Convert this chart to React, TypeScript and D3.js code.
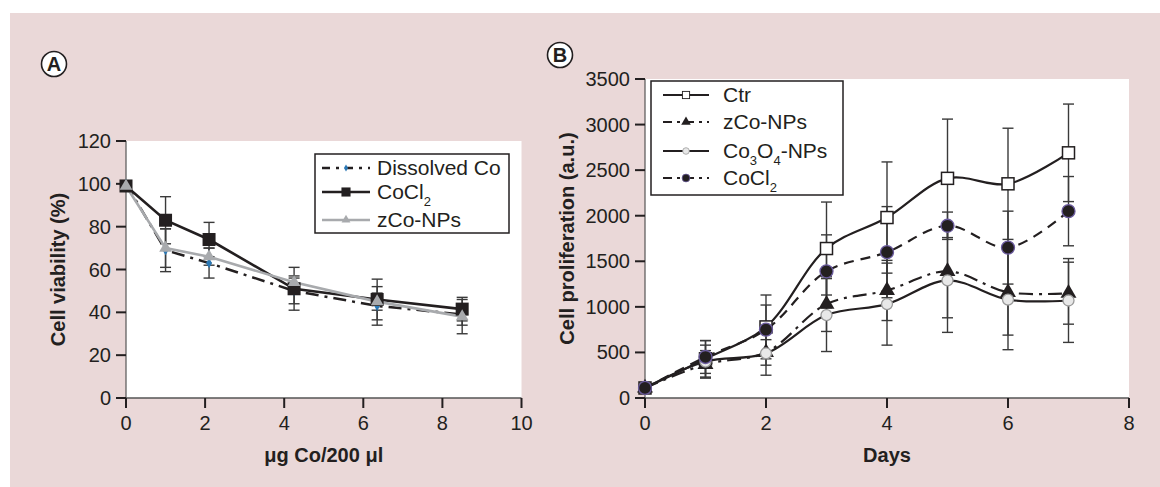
import React from 'react';
import * as d3 from 'd3';

// panel A: viability vs dose
const doses = [0, 1.0, 2.1, 4.25, 6.35, 8.5];
const dissolvedCo = [100, 69, 63, 50, 43, 39];
const dissolvedCoErr = [0, 10, 7, 6, 9, 5];
const cocl2A = [99, 83, 74, 51, 46, 41.5];
const cocl2AErr = [0, 11, 8, 10, 9.5, 5.5];
const zcoA = [99, 70, 66, 54, 45, 38];
const zcoAErr = [0, 9, 4, 3, 4, 8];
const ticksAx = [0, 2, 4, 6, 8, 10];
const ticksAy = [0, 20, 40, 60, 80, 100, 120];

// panel B: proliferation vs days
const days = [0, 1, 2, 3, 4, 5, 6, 7];
const ctr = [110, 430, 780, 1640, 1980, 2410, 2350, 2690];
const ctrErr = [30, 200, 350, 510, 610, 650, 610, 535];
const zcoB = [110, 370, 500, 1030, 1180, 1390, 1160, 1150];
const zcoBErr = [30, 150, 140, 300, 330, 510, 470, 340];
const co3o4 = [110, 400, 490, 910, 1030, 1290, 1080, 1070];
const co3o4Err = [30, 180, 240, 400, 450, 570, 550, 460];
const cocl2B = [110, 450, 750, 1390, 1600, 1890, 1650, 2050];
const cocl2BErr = [30, 180, 270, 400, 500, 150, 400, 380];
const ticksBx = [0, 2, 4, 6, 8];
const ticksBy = [0, 500, 1000, 1500, 2000, 2500, 3000, 3500];

const INK = '#231f20';
const FONT = '"Liberation Sans", Arial, Helvetica, sans-serif';

type Series = {
  name: string;
  xs: number[];
  ys: number[];
  err: number[];
  stroke: string;
  width: number;
  dash?: string;
  marker: (x: number, y: number, key: string) => React.ReactNode;
};

function ErrorBars({ s, x, y, cap }: { s: Series; x: d3.ScaleLinear<number, number>; y: d3.ScaleLinear<number, number>; cap: number }) {
  return (
    <g stroke="#3a3a3a" strokeWidth={1.4}>
      {s.xs.map((d, i) => {
        const e = s.err[i];
        if (!e) return null;
        const cx = x(d);
        const y1 = y(s.ys[i] - e);
        const y2 = y(s.ys[i] + e);
        return (
          <g key={i}>
            <line x1={cx} x2={cx} y1={y1} y2={y2} />
            <line x1={cx - cap} x2={cx + cap} y1={y1} y2={y1} />
            <line x1={cx - cap} x2={cx + cap} y1={y2} y2={y2} />
          </g>
        );
      })}
    </g>
  );
}

const sym = (type: d3.SymbolType, size: number) => d3.symbol().type(type).size(size)() as string;

function Axes({ x, y, xt, yt, xLabel, yLabel, yLabelX }: any) {
  const [x0, x1] = x.range();
  const [y0, y1] = y.range();
  return (
    <g fontFamily={FONT} fill={INK}>
      <rect x={x0} y={y1} width={x1 - x0} height={y0 - y1} fill="#fff" />
      <line x1={x0} x2={x1} y1={y0} y2={y0} stroke="#555" strokeWidth={1.5} />
      <line x1={x0} x2={x0} y1={y1} y2={y0} stroke="#555" strokeWidth={1.2} />
      {xt.map((t: number) => (
        <g key={'x' + t}>
          <line x1={x(t)} x2={x(t)} y1={y0} y2={y0 + 10} stroke={INK} strokeWidth={2} />
          <text x={x(t)} y={y0 + 32} fontSize={20} textAnchor="middle">{t}</text>
        </g>
      ))}
      {yt.map((t: number) => (
        <g key={'y' + t}>
          <line x1={x0 - 10} x2={x0} y1={y(t)} y2={y(t)} stroke={INK} strokeWidth={2} />
          <text x={x0 - 15} y={y(t) + 7} fontSize={20} textAnchor="end">{t}</text>
        </g>
      ))}
      <text x={(x0 + x1) / 2} y={462} fontSize={20} fontWeight="bold" textAnchor="middle">{xLabel}</text>
      <text transform={`translate(${yLabelX},${(y0 + y1) / 2}) rotate(-90)`} fontSize={20} fontWeight="bold" textAnchor="middle">{yLabel}</text>
    </g>
  );
}

function Badge({ cx, cy, label }: { cx: number; cy: number; label: string }) {
  return (
    <g>
      <circle cx={cx} cy={cy} r={12.5} fill="#fff" stroke={INK} strokeWidth={1.6} />
      <text x={cx} y={cy + 7} textAnchor="middle" fontFamily={FONT} fontWeight="bold" fontSize={20} fill={INK}>{label}</text>
    </g>
  );
}

export default function App() {
  // panel A scales
  const xA = d3.scaleLinear().domain([0, 10]).range([126, 521.5]);
  const yA = d3.scaleLinear().domain([0, 120]).range([398, 141]);
  // panel B scales
  const xB = d3.scaleLinear().domain([0, 8]).range([645, 1129]);
  const yB = d3.scaleLinear().domain([0, 3500]).range([398, 79]);

  const seriesA: Series[] = [
    {
      name: 'Dissolved Co', xs: doses, ys: dissolvedCo, err: dissolvedCoErr, stroke: INK, width: 2.5, dash: '13,6,3,6',
      marker: (x, y, k) => <path key={k} d={sym(d3.symbolDiamond, 30)} transform={`translate(${x},${y})`} fill="#2a78b5" />,
    },
    {
      name: 'CoCl2', xs: doses, ys: cocl2A, err: cocl2AErr, stroke: INK, width: 2.6,
      marker: (x, y, k) => <rect key={k} x={x - 6.5} y={y - 6.5} width={13} height={13} fill={INK} />,
    },
    {
      name: 'zCo-NPs', xs: doses, ys: zcoA, err: zcoAErr, stroke: '#a8aaad', width: 2.6,
      marker: (x, y, k) => <path key={k} d={sym(d3.symbolTriangle, 70)} transform={`translate(${x},${y})`} fill="#a8aaad" />,
    },
  ];

  const seriesB: Series[] = [
    {
      name: 'Ctr', xs: days, ys: ctr, err: ctrErr, stroke: INK, width: 2.2,
      marker: (x, y, k) => <rect key={k} x={x - 6} y={y - 6} width={12} height={12} fill="#fff" stroke={INK} strokeWidth={1.5} />,
    },
    {
      name: 'zCo-NPs', xs: days, ys: zcoB, err: zcoBErr, stroke: INK, width: 2.2, dash: '14,6,3,6',
      marker: (x, y, k) => <path key={k} d={sym(d3.symbolTriangle, 110)} transform={`translate(${x},${y})`} fill={INK} />,
    },
    {
      name: 'Co3O4-NPs', xs: days, ys: co3o4, err: co3o4Err, stroke: INK, width: 2.2,
      marker: (x, y, k) => <circle key={k} cx={x} cy={y} r={5.5} fill="#e8e8e8" stroke="#9a9a9a" strokeWidth={1.3} />,
    },
    {
      name: 'CoCl2', xs: days, ys: cocl2B, err: cocl2BErr, stroke: INK, width: 2.2, dash: '10,7',
      marker: (x, y, k) => <circle key={k} cx={x} cy={y} r={6.5} fill={INK} stroke="#6b5b9e" strokeWidth={1.3} />,
    },
  ];

  const lineA = (s: Series) =>
    d3.line<number>().x((d) => xA(d)).y((_, i) => yA(s.ys[i]))(s.xs) as string;
  const lineB = (s: Series) =>
    d3.line<number>().x((d) => xB(d)).y((_, i) => yB(s.ys[i])).curve(d3.curveCatmullRom.alpha(0.5))(s.xs) as string;

  const sub = (main: string, small: string, rest = '') => (
    <>
      {main}
      <tspan dy={7} fontSize={13}>{small}</tspan>
      <tspan dy={-7}>{rest}</tspan>
    </>
  );

  const legendA = [
    { s: seriesA[0], label: <>Dissolved Co</>, y: 168 },
    { s: seriesA[1], label: sub('CoCl', '2'), y: 192 },
    { s: seriesA[2], label: <>zCo-NPs</>, y: 220 },
  ];
  const legendB = [
    { s: seriesB[0], label: <>Ctr</>, y: 95 },
    { s: seriesB[1], label: <>zCo-NPs</>, y: 122 },
    { s: seriesB[2], label: <>{'Co'}<tspan dy={7} fontSize={13}>3</tspan><tspan dy={-7}>O</tspan><tspan dy={7} fontSize={13}>4</tspan><tspan dy={-7}>-NPs</tspan></>, y: 151 },
    { s: seriesB[3], label: sub('CoCl', '2'), y: 178 },
  ];

  return (
    <svg width={1160} height={487} style={{ position: 'absolute', left: 0, top: 0, display: 'block' }}>
      <rect x={0} y={0} width={1160} height={487} fill="#fff" />
      <rect x={10} y={13} width={1150} height={474} fill="#ead8d8" />

      {/* Panel A */}
      <Badge cx={54} cy={64} label="A" />
      <Axes x={xA} y={yA} xt={ticksAx} yt={ticksAy} xLabel="μg Co/200 μl" yLabel="Cell viability (%)" yLabelX={65} />
      {seriesA.map((s) => <ErrorBars key={'e' + s.name} s={s} x={xA} y={yA} cap={5.5} />)}
      {seriesA.map((s) => (
        <path key={'l' + s.name} d={lineA(s)} fill="none" stroke={s.stroke} strokeWidth={s.width} strokeDasharray={s.dash} />
      ))}
      {seriesA.map((s) => <g key={'m' + s.name}>{s.xs.map((d, i) => s.marker(xA(d), yA(s.ys[i]), s.name + i))}</g>)}
      <g fontFamily={FONT} fill={INK}>
        <rect x={315} y={154} width={194} height={79} fill="#fff" stroke={INK} strokeWidth={1.5} />
        {legendA.map(({ s, label, y }) => (
          <g key={'la' + s.name}>
            <line x1={322} x2={370} y1={y} y2={y} stroke={s.stroke} strokeWidth={s.width} strokeDasharray={s.dash ? '8,6,3,6' : undefined} />
            <g transform={`translate(${346},${y}) scale(0.7) translate(${-346},${-y})`}>{s.marker(346, y, 'lam' + s.name)}</g>
            <text x={377} y={y + 7} fontSize={21}>{label}</text>
          </g>
        ))}
      </g>

      {/* Panel B */}
      <Badge cx={560} cy={55} label="B" />
      <Axes x={xB} y={yB} xt={ticksBx} yt={ticksBy} xLabel="Days" yLabel="Cell proliferation (a.u.)" yLabelX={574} />
      {seriesB.map((s) => <ErrorBars key={'e' + s.name} s={s} x={xB} y={yB} cap={5.5} />)}
      {seriesB.map((s) => (
        <path key={'l' + s.name} d={lineB(s)} fill="none" stroke={s.stroke} strokeWidth={s.width} strokeDasharray={s.dash} />
      ))}
      {seriesB.map((s) => <g key={'m' + s.name}>{s.xs.map((d, i) => s.marker(xB(d), yB(s.ys[i]), s.name + i))}</g>)}
      <g fontFamily={FONT} fill={INK}>
        <rect x={651} y={81} width={192} height={114} fill="#fff" stroke={INK} strokeWidth={1.5} />
        {legendB.map(({ s, label, y }) => (
          <g key={'lb' + s.name}>
            <line x1={663} x2={709} y1={y} y2={y} stroke={s.stroke} strokeWidth={s.width} strokeDasharray={s.dash ? '9,5,3,5' : undefined} />
            <g transform={`translate(${686},${y}) scale(0.6) translate(${-686},${-y})`}>{s.marker(686, y, 'lbm' + s.name)}</g>
            <text x={723} y={y + 7} fontSize={21}>{label}</text>
          </g>
        ))}
      </g>
    </svg>
  );
}
